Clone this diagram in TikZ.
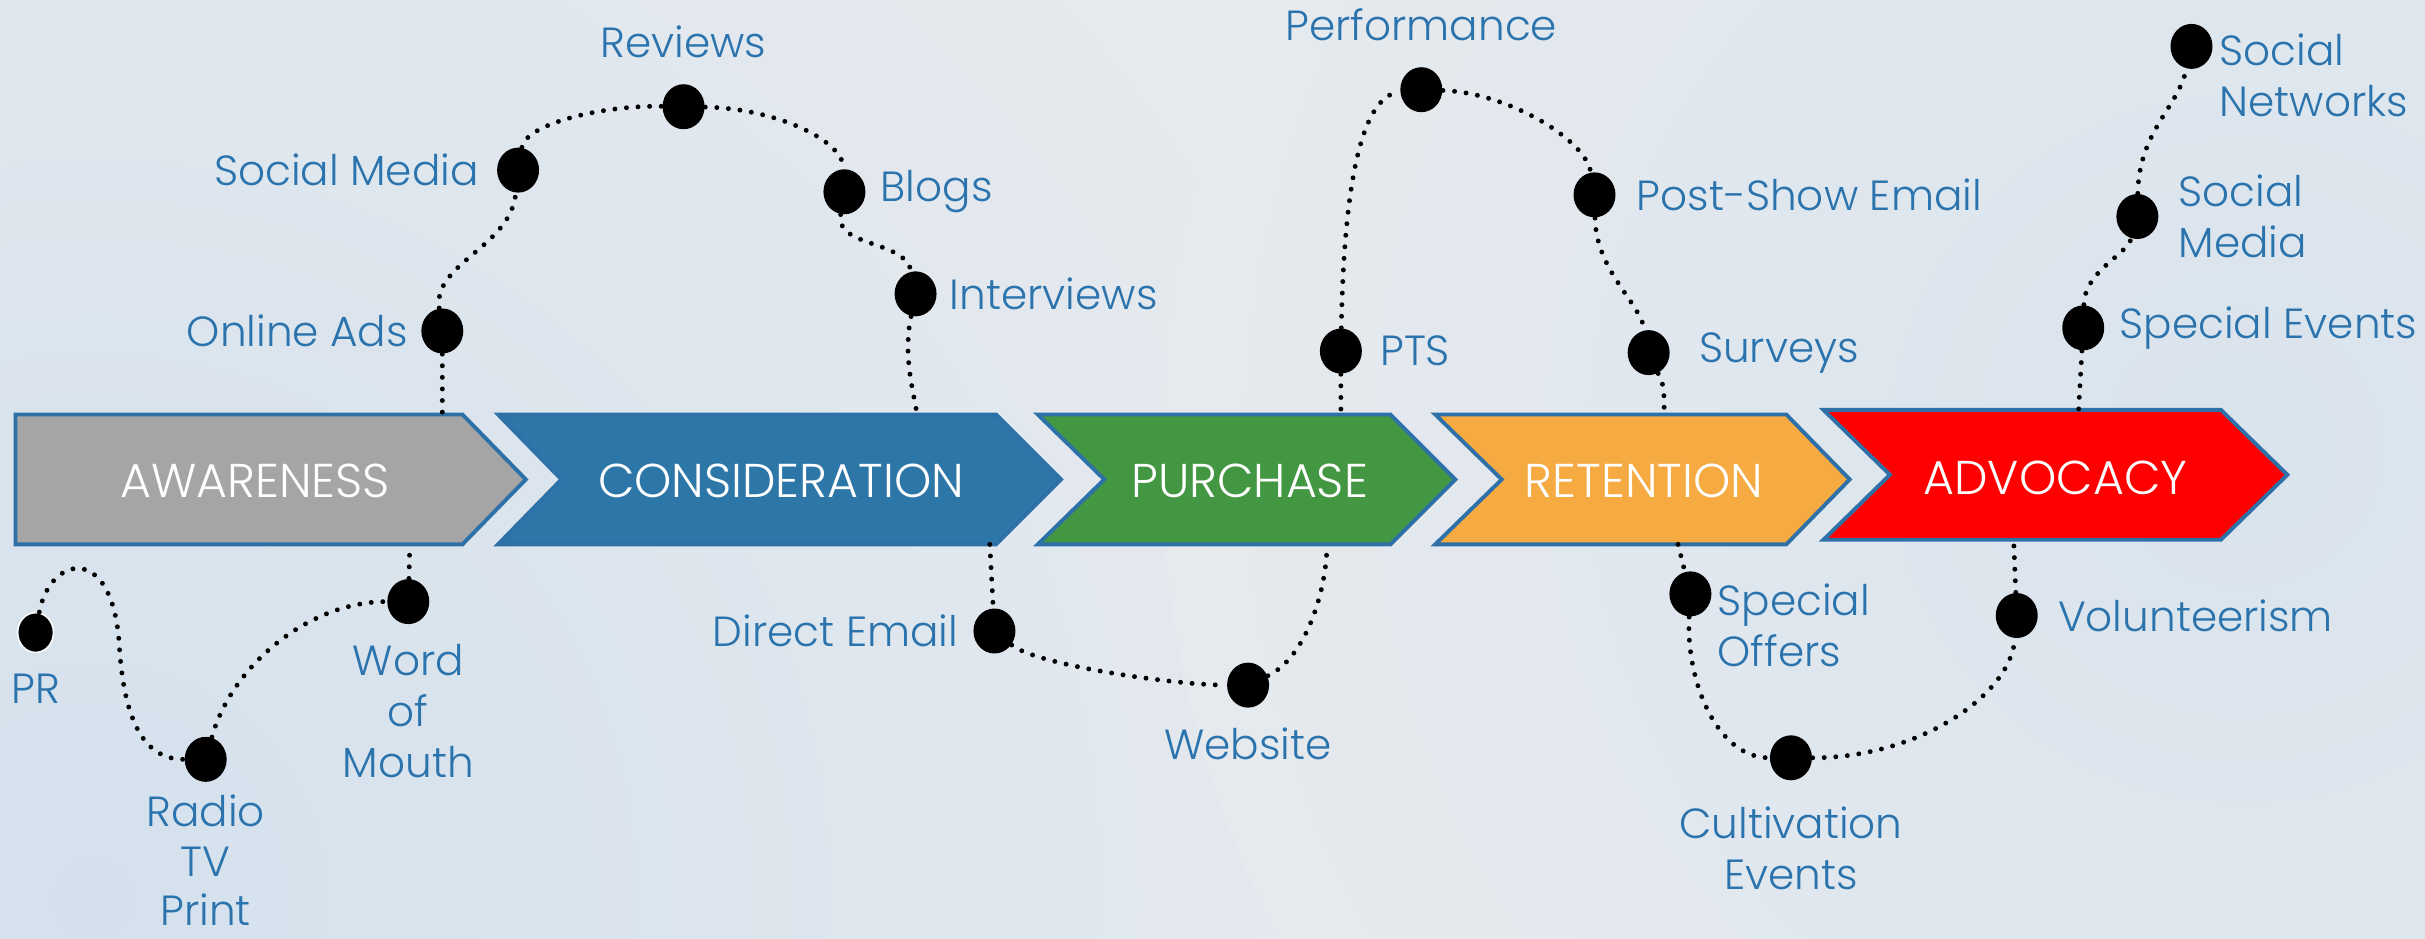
\documentclass[tikz,border=0pt]{standalone}
\usepackage{fontspec}
\setmainfont{Poppins Light}
\newfontfamily\bandfont{Poppins Light}
\usepackage{tikz}
\usetikzlibrary{positioning}
\usetikzlibrary{shapes.geometric}
\usepackage{xcolor}

\definecolor{bg}{RGB}{230,234,238}
\definecolor{bgblue}{RGB}{212,225,237}
\definecolor{edge}{RGB}{46,112,168}
\definecolor{lblue}{RGB}{42,115,173}
\definecolor{cgrey}{RGB}{165,165,165}
\definecolor{cblue}{RGB}{44,119,168}
\definecolor{cgreen}{RGB}{67,150,66}
\definecolor{corange}{RGB}{245,170,66}
\definecolor{cred}{RGB}{255,0,0}

\begin{document}
\begin{tikzpicture}[x=0.015466cm, y=-0.015466cm,
    dot/.style={ellipse, fill=black, inner sep=0pt, minimum width=0.42cm, minimum height=0.45cm},
    lbl/.style={text=lblue, font=\fontsize{12}{14.5}\selectfont, inner sep=0pt, align=center},
    trail/.style={line width=1.4pt, dash pattern=on 0pt off 3.3pt, line cap=round},
    chev/.style={draw=edge, line width=1.1pt},
    band/.style={text=white, font=\bandfont\fontsize{13.5}{16}\selectfont}]
\useasboundingbox (0,0) rectangle (1568,607);
\fill[bg] (0,0) rectangle (1568,607);
\begin{scope}
\clip (0,0) rectangle (1568,607);
\shade[inner color=bgblue, outer color=bg] (60,580) circle (900);
\shade[inner color=bgblue!70!bg, outer color=bg] (1450,290) circle (700);
\end{scope}

\draw[chev, fill=cgrey] (10,268) -- (299,268) -- (340,310) -- (299,352) -- (10,352) -- cycle;
\draw[chev, fill=cblue] (322,268) -- (644,268) -- (686,310) -- (644,352) -- (322,352) -- (363,310) -- cycle;
\draw[chev, fill=cgreen] (671,268) -- (899,268) -- (941,310) -- (899,352) -- (671,352) -- (714,310) -- cycle;
\draw[chev, fill=corange] (928,268) -- (1155,268) -- (1196,310) -- (1155,352) -- (928,352) -- (971,310) -- cycle;
\draw[chev, fill=cred] (1179,265) -- (1436,265) -- (1479,307) -- (1436,349) -- (1179,349) -- (1222,307) -- cycle;
\node[band] (aw) at (165,311) {AWARENESS};
\node[band] (co) at (505,311) {CONSIDERATION};
\node[band] (pu) at (808,311) {PURCHASE};
\node[band] (re) at (1063,311) {RETENTION};
\node[band] (ad) at (1329,309) {ADVOCACY};

\coordinate (aw-top) at (286,268);
\coordinate (aw-bot) at (265,352);
\coordinate (co-top) at (593,268);
\coordinate (co-bot) at (640,352);
\coordinate (pu-top) at (867,268);
\coordinate (pu-bot) at (858,352);
\coordinate (re-top) at (1076,268);
\coordinate (re-bot) at (1085,352);
\coordinate (ad-top) at (1344,265);
\coordinate (ad-bot) at (1302,349);

\node[dot, minimum width=0.36cm, minimum height=0.4cm, draw=white!70!bg, line width=0.5pt] (pr) at (23,409) {};
\node[lbl, below=0.2cm of pr] {PR};
\node[dot] (radio) at (133,491) {};
\node[lbl, font=\fontsize{12}{14}\selectfont, below=0.12cm of radio] {Radio\\TV\\Print};
\node[dot] (wom) at (264,389) {};
\node[lbl, below=0.19cm of wom] {Word\\of\\Mouth};
\node[dot] (ads) at (286,214) {};
\node[lbl, left=0.12cm of ads] {Online Ads};
\node[dot] (socmed) at (335,110) {};
\node[lbl, left=0.17cm of socmed] {Social Media};
\node[dot] (reviews) at (442,69) {};
\node[lbl, above=0.25cm of reviews] {Reviews};
\node[dot] (blogs) at (546,124) {};
\node[lbl, right=0.14cm of blogs] {Blogs};
\node[dot] (intv) at (592,190) {};
\node[lbl, right=0.12cm of intv] {Interviews};
\node[dot] (email) at (643,408) {};
\node[lbl, left=0.14cm of email] {Direct Email};
\node[dot] (web) at (807,443) {};
\node[lbl, below=0.19cm of web] {Website};
\node[dot] (pts) at (867,227) {};
\node[lbl, right=0.17cm of pts] {PTS};
\node[dot] (perf) at (919,58) {};
\node[lbl, above=0.25cm of perf] {Performance};
\node[dot] (post) at (1031,126) {};
\node[lbl, right=0.2cm of post] {Post-Show Email};
\node[dot] (surveys) at (1066,228) {};
\node[lbl, right=0.28cm of surveys] {Surveys};
\node[dot] (offers) at (1093,384) {};
\node[lbl, align=left, right=0.11cm of offers.north east, anchor=north west, yshift=-0.06cm] {Special\\Offers};
\node[dot] (cult) at (1158,490) {};
\node[lbl, below=0.25cm of cult] {Cultivation\\Events};
\node[dot] (vol) at (1304,398) {};
\node[lbl, right=0.19cm of vol] {Volunteerism};
\node[dot] (events) at (1347,212) {};
\node[lbl, right=0.14cm of events] {Special Events};
\node[dot] (media) at (1382,140) {};
\node[lbl, align=left, right=0.19cm of media] {Social\\Media};
\node[dot] (networks) at (1417,30) {};
\node[lbl, align=left, right=0.12cm of networks.north east, anchor=north west, yshift=-0.03cm] {Social\\Networks};

\draw[trail] (pr) .. controls (32,360) and (72,350) .. (77,415) .. controls (80,470) and (95,491) .. (radio);
\draw[trail] (radio) .. controls (150,430) and (200,389) .. (wom);
\draw[trail] (wom) -- (aw-bot);
\draw[trail] (ads) -- (aw-top);
\draw[trail] (ads) .. controls (280,170) and (330,160) .. (socmed);
\draw[trail] (socmed) .. controls (340,80) and (390,68) .. (reviews);
\draw[trail] (reviews) .. controls (500,70) and (545,90) .. (blogs);
\draw[trail] (blogs) .. controls (540,160) and (585,155) .. (intv);
\draw[trail] (intv) .. controls (584,230) and (590,250) .. (co-top);
\draw[trail] (co-bot) -- (email);
\draw[trail] (email) .. controls (670,430) and (760,443) .. (web);
\draw[trail] (web) .. controls (845,425) and (858,380) .. (pu-bot);
\draw[trail] (pts) -- (pu-top);
\draw[trail] (pts) .. controls (869,120) and (880,62) .. (perf);
\draw[trail] (perf) .. controls (975,60) and (1025,90) .. (post);
\draw[trail] (post) .. controls (1032,175) and (1060,195) .. (surveys);
\draw[trail] (surveys) .. controls (1076,250) .. (re-top);
\draw[trail] (re-bot) -- (offers);
\draw[trail] (offers) .. controls (1090,440) and (1110,490) .. (cult);
\draw[trail] (cult) .. controls (1240,490) and (1300,450) .. (vol);
\draw[trail] (vol) -- (ad-bot);
\draw[trail] (events) -- (ad-top);
\draw[trail] (events) .. controls (1348,175) and (1375,165) .. (media);
\draw[trail] (media) .. controls (1383,85) and (1408,70) .. (networks);
\end{tikzpicture}
\end{document}
